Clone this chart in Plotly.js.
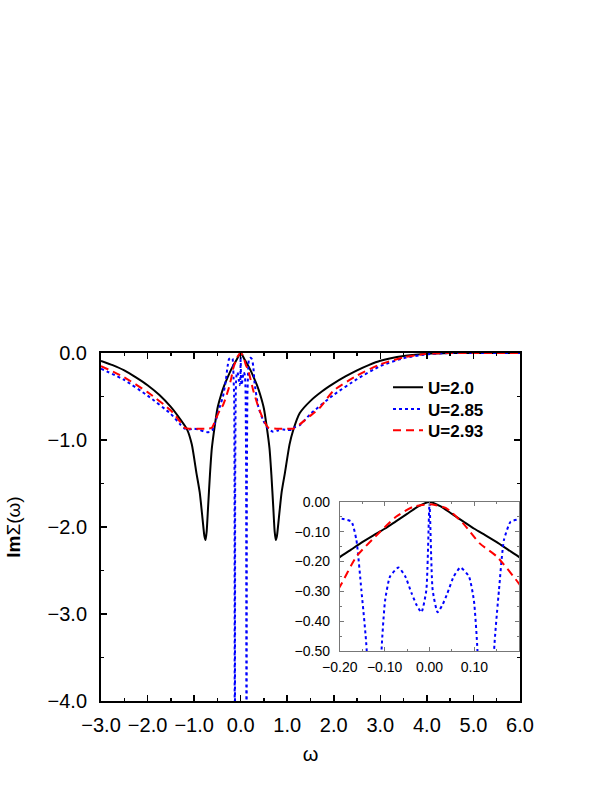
<!DOCTYPE html>
<html>
<head>
<meta charset="utf-8">
<script src="https://cdn.plot.ly/plotly-3.0.1.min.js"></script>
<style>body{margin:0;padding:0;background:#fff;}</style>
</head>
<body>
<div id="chart" style="width:609px;height:788px;"></div>
<script>
// U = 2.0 (black, solid)
const blackX = [-3.0,-2.75,-2.5,-2.25,-2.0,-1.75,-1.5,-1.3,-1.15,-1.05,-0.95,-0.88,-0.82,-0.78,-0.755,-0.73,-0.70,-0.66,-0.62,-0.56,-0.5,-0.42,-0.35,-0.28,-0.2,-0.175,-0.15,-0.125,-0.1,-0.075,-0.05,-0.025,0,
                0.025,0.05,0.075,0.1,0.125,0.15,0.175,0.2,0.28,0.35,0.42,0.5,0.56,0.62,0.66,0.70,0.73,0.755,0.78,0.82,0.88,0.95,1.05,1.13,1.27,1.5,1.75,2.0,2.25,2.5,2.75,3.0,3.5,4.0,4.5,5.0,6.0];
const blackY = [-0.09,-0.14,-0.20,-0.28,-0.37,-0.48,-0.62,-0.76,-0.88,-1.05,-1.38,-1.6,-1.9,-2.1,-2.15,-2.05,-1.77,-1.4,-1.1,-0.85,-0.64,-0.48,-0.37,-0.28,-0.185,-0.16,-0.135,-0.112,-0.09,-0.065,-0.04,-0.015,0,
                -0.015,-0.04,-0.065,-0.09,-0.112,-0.135,-0.16,-0.185,-0.28,-0.37,-0.48,-0.64,-0.85,-1.1,-1.4,-1.77,-2.05,-2.15,-2.1,-1.9,-1.6,-1.38,-1.05,-0.885,-0.69,-0.55,-0.44,-0.35,-0.27,-0.2,-0.14,-0.09,-0.035,-0.01,0,0,0];

// U = 2.85 (blue, dotted)
const blueX = [-3.0,-2.5,-2.0,-1.5,-1.3,-1.2,-1.1,-1.0,-0.9,-0.8,-0.72,-0.66,-0.6,-0.55,-0.52,-0.45,-0.38,-0.32,-0.28,-0.25,-0.21,-0.19,-0.174,-0.163,-0.152,-0.14,-0.132,-0.125,-0.118,-0.107,-0.099,-0.088,-0.069,-0.054,-0.04,-0.029,-0.018,-0.007,0,
               0.007,0.018,0.029,0.04,0.054,0.069,0.088,0.099,0.107,0.118,0.126,0.133,0.144,0.155,0.166,0.181,0.2,0.21,0.24,0.27,0.3,0.38,0.48,0.59,0.7,0.8,0.91,1.0,1.09,1.16,1.27,1.5,2.0,2.5,3.0,3.5,4.0,4.5,5.0,6.0];
const blueY = [-0.18,-0.31,-0.49,-0.70,-0.82,-0.87,-0.88,-0.87,-0.88,-0.90,-0.91,-0.905,-0.88,-0.8,-0.75,-0.62,-0.5,-0.32,-0.15,-0.07,-0.055,-0.058,-0.066,-0.128,-0.295,-0.5,-1.5,-8,-1.5,-0.5,-0.33,-0.25,-0.22,-0.25,-0.306,-0.345,-0.37,-0.295,-0.005,
               -0.295,-0.37,-0.345,-0.306,-0.25,-0.22,-0.25,-0.33,-0.5,-1.5,-8,-1.5,-0.5,-0.295,-0.128,-0.066,-0.058,-0.055,-0.07,-0.15,-0.35,-0.62,-0.77,-0.87,-0.905,-0.89,-0.88,-0.885,-0.885,-0.855,-0.83,-0.70,-0.48,-0.30,-0.15,-0.06,-0.015,0,0,0];

// U = 2.93 (red, dashed)
const redX = [-3.0,-2.5,-2.0,-1.5,-1.3,-1.2,-1.1,-0.9,-0.7,-0.62,-0.55,-0.45,-0.38,-0.27,-0.2,-0.163,-0.11,-0.074,-0.036,0,
              0.036,0.075,0.112,0.15,0.2,0.27,0.38,0.5,0.6,0.8,1.0,1.13,1.27,1.5,1.7,2.0,2.5,3.0,3.5,4.0,4.5,5.0,6.0];
const redY = [-0.15,-0.28,-0.45,-0.66,-0.79,-0.86,-0.87,-0.87,-0.87,-0.86,-0.78,-0.66,-0.6,-0.43,-0.284,-0.183,-0.10,-0.049,-0.016,-0.008,
              -0.02,-0.072,-0.139,-0.183,-0.275,-0.43,-0.62,-0.78,-0.86,-0.87,-0.87,-0.87,-0.82,-0.72,-0.63,-0.43,-0.26,-0.13,-0.05,-0.01,0,0,0];

const seriesNames = ["U=2.0", "U=2.85", "U=2.93"];
const mainXTicks = [-3,-2,-1,0,1,2,3,4,5,6];
const mainYTicks = [0,-1,-2,-3,-4];
const insetXTicks = [-0.2,-0.1,0,0.1];
const insetYTicks = [0,-0.1,-0.2,-0.3,-0.4,-0.5];

const FONT = "Liberation Sans, Arial, sans-serif";
const styles = [
  {color:"#000000", dash:"solid", width:2, shape:"spline", smoothing:0.6},
  {color:"#0000ff", dash:"dot", width:2, shape:"spline", smoothing:0.5},
  {color:"#ff0000", dash:"8px,5px", width:2, shape:"spline", smoothing:0.6}
];
const legendIds = ["legend", "legend2", "legend3"];
const xs = [blackX, blueX, redX];
const ys = [blackY, blueY, redY];

const traces = [];
for (let i = 0; i < 3; i++) {
  traces.push({x: xs[i], y: ys[i], type:"scatter", mode:"lines", name: seriesNames[i],
    line: styles[i], xaxis:"x", yaxis:"y", showlegend:true, legend: legendIds[i]});
}
for (let i = 0; i < 3; i++) {
  traces.push({x: xs[i], y: ys[i], type:"scatter", mode:"lines", name: seriesNames[i],
    line: styles[i], xaxis:"x2", yaxis:"y2", showlegend:false});
}

function legendAt(yPaper) {
  return {x:0.685, y:yPaper, xanchor:"left", yanchor:"middle", bgcolor:"rgba(0,0,0,0)",
    borderwidth:0, font:{family:FONT, size:17, weight:"bold", color:"#000"}};
}

const layout = {
  width: 609, height: 788,
  margin: {l:101, r:89, t:353, b:87},
  paper_bgcolor:"#ffffff", plot_bgcolor:"#ffffff",
  font: {family: FONT, color:"#000"},
  showlegend: true,
  legend: legendAt(0.900),
  legend2: legendAt(0.838),
  legend3: legendAt(0.777),
  xaxis: {domain:[0,1], range:[-3,6], tickvals: mainXTicks, tickformat:".1f",
    ticks:"inside", ticklen:6, tickwidth:1.5, tickcolor:"#000", ticklabelstandoff:5,
    minor:{dtick:0.5, tick0:0, ticks:"inside", ticklen:3, tickwidth:1.5, tickcolor:"#000"},
    showline:true, linewidth:2, linecolor:"#000", mirror:"allticks",
    showgrid:false, zeroline:false, tickfont:{family:FONT, size:20},
    title:{text:"ω", font:{family:FONT, size:20}, standoff:12}},
  yaxis: {domain:[0,1], range:[-4,0], tickvals: mainYTicks, tickformat:".1f",
    ticks:"inside", ticklen:6, tickwidth:1.5, tickcolor:"#000", ticklabelstandoff:8,
    minor:{dtick:0.5, tick0:0, ticks:"inside", ticklen:3, tickwidth:1.5, tickcolor:"#000"},
    showline:true, linewidth:2, linecolor:"#000", mirror:"allticks",
    showgrid:false, zeroline:false, tickfont:{family:FONT, size:20},
    title:{text:"<b>Im</b>Σ(ω)", font:{family:FONT, size:19}, standoff:22}},
  xaxis2: {domain:[0.570,0.998], anchor:"y2", range:[-0.2,0.2], tickvals: insetXTicks, tickformat:".2f",
    ticks:"inside", ticklen:4, tickwidth:1, tickcolor:"#777", ticklabelstandoff:3,
    minor:{dtick:0.05, tick0:0, ticks:"inside", ticklen:2, tickwidth:1, tickcolor:"#777"},
    showline:true, linewidth:1, linecolor:"#777", mirror:"allticks",
    showgrid:false, zeroline:false, tickfont:{family:FONT, size:14}},
  yaxis2: {domain:[0.1437,0.572], anchor:"x2", range:[-0.5,0], tickvals: insetYTicks, tickformat:".2f",
    ticks:"inside", ticklen:4, tickwidth:1, tickcolor:"#777", ticklabelstandoff:6,
    minor:{dtick:0.05, tick0:0, ticks:"inside", ticklen:2, tickwidth:1, tickcolor:"#777"},
    showline:true, linewidth:1, linecolor:"#777", mirror:"allticks",
    showgrid:false, zeroline:false, tickfont:{family:FONT, size:14}}
};

Plotly.newPlot("chart", traces, layout, {displayModeBar:false, staticPlot:true});
</script>
</body>
</html>
